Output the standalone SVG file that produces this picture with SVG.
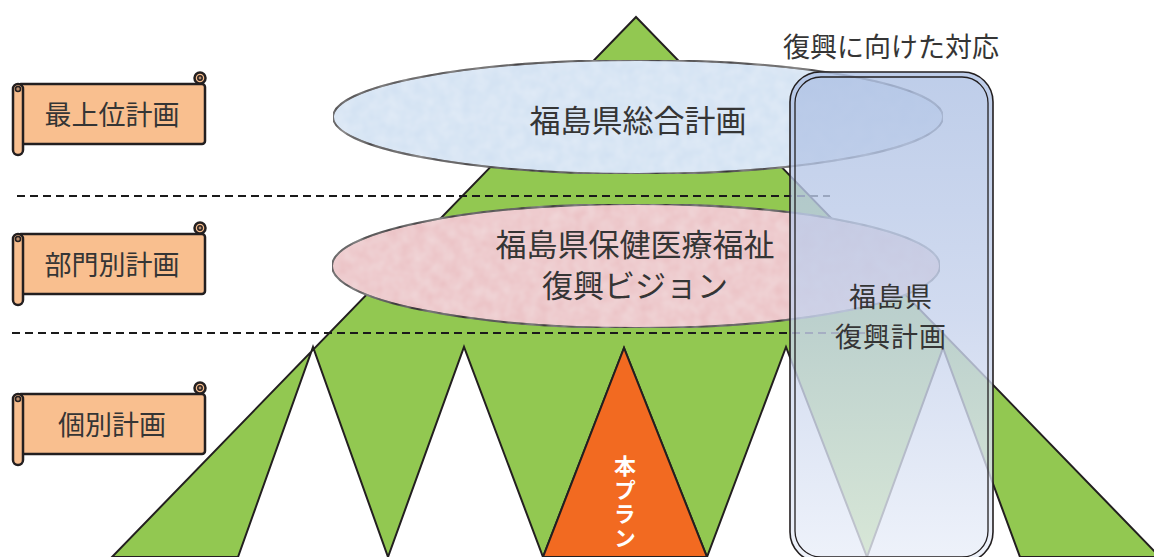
<svg xmlns="http://www.w3.org/2000/svg" width="1154" height="557" viewBox="0 0 1154 557">
  <defs>
    <style>
      .jp { font-family: "Noto Sans CJK JP", "Noto Sans", sans-serif; fill: #353535; }
      .ban { fill: #f9bf8f; stroke: #231f20; stroke-width: 2.5; }
      .curl { fill: #b98c6c; stroke: #231f20; stroke-width: 1.5; }
      .dash { stroke: #1a1a1a; stroke-width: 1.8; stroke-dasharray: 8 5; fill: none; }
      .edge { stroke: #231f20; stroke-width: 2; stroke-linejoin: miter; }
    </style>
    <linearGradient id="panelGrad" x1="0" y1="0" x2="0" y2="1">
      <stop offset="0" stop-color="#aec1e4"/>
      <stop offset="0.5" stop-color="#c6d2ec"/>
      <stop offset="1" stop-color="#eaeff9"/>
    </linearGradient>
    <filter id="mottle" x="0" y="0" width="1" height="1">
      <feTurbulence type="fractalNoise" baseFrequency="0.08" numOctaves="2" seed="3" result="n"/>
      <feColorMatrix in="n" type="matrix" values="0 0 0 0 1  0 0 0 0 1  0 0 0 0 1  0 0 0 0.35 -0.05" result="w"/>
      <feComposite in="w" in2="SourceGraphic" operator="in" result="wc"/>
      <feMerge><feMergeNode in="SourceGraphic"/><feMergeNode in="wc"/></feMerge>
    </filter>
    <g id="banner">
      <rect class="ban" x="18" y="1" width="187" height="60" rx="3"/>
      <circle class="ban" cx="200" cy="-5" r="5.5"/>
      <circle class="curl" cx="200" cy="-5" r="2.2"/>
      <rect class="ban" x="13" y="1" width="10" height="71" rx="5"/>
      <circle class="curl" cx="18" cy="6" r="2.5"/>
    </g>
  </defs>

  <g id="mountain">
    <polygon class="edge" fill="#92c851" points="636,17 1160,557 1020,557 943,348 867,557 786,347 707,557 624,348 543,557 464,347 388,557 313,347 238,557 112,557"/>
  </g>

  <g id="honplan">
    <polygon fill="#f26a21" stroke="#231f20" stroke-width="2" points="624,348 543,557 707,557"/>
    <text x="625" y="455" style="font-family: 'Noto Sans CJK JP', sans-serif; font-weight: bold; font-size: 22px; fill: #ffffff; writing-mode: vertical-rl; letter-spacing: 2px;">本プラン</text>
  </g>

  <g id="separators">
    <line class="dash" x1="17" y1="196" x2="830" y2="196"/>
    <line class="dash" x1="12" y1="333" x2="880" y2="333"/>
  </g>

  <g id="sougou">
    <ellipse cx="638" cy="117" rx="305" ry="57" fill="#d3e2f3" stroke="#231f20" stroke-width="2" filter="url(#mottle)"/>
    <text class="jp" x="638" y="132" font-size="31" text-anchor="middle">福島県総合計画</text>
  </g>

  <g id="vision">
    <ellipse cx="636" cy="266" rx="304" ry="62" fill="#ebc3c6" stroke="#231f20" stroke-width="2" filter="url(#mottle)"/>
    <text class="jp" font-size="31" text-anchor="middle"><tspan x="635" y="256">福島県保健医療福祉</tspan><tspan x="635" y="297">復興ビジョン</tspan></text>
  </g>

  <g id="fukkou">
    <rect x="790" y="72" width="203" height="490" rx="30" fill="url(#panelGrad)" opacity="0.8"/>
    <rect x="790" y="72" width="203" height="490" rx="30" fill="none" stroke="#231f20" stroke-width="1.6"/>
    <rect x="795" y="77" width="193" height="480" rx="26" fill="none" stroke="#231f20" stroke-width="1.3"/>
    <text class="jp" x="891" y="57" font-size="27" text-anchor="middle">復興に向けた対応</text>
    <text class="jp" font-size="27" text-anchor="middle" letter-spacing="1"><tspan x="891" y="307">福島県</tspan><tspan x="891" y="347">復興計画</tspan></text>
  </g>

  <g id="level-top">
    <use href="#banner" x="0" y="83"/>
    <text class="jp" x="112" y="125" font-size="27" text-anchor="middle">最上位計画</text>
  </g>
  <g id="level-sector">
    <use href="#banner" x="0" y="233"/>
    <text class="jp" x="112" y="275" font-size="27" text-anchor="middle">部門別計画</text>
  </g>
  <g id="level-individual">
    <use href="#banner" x="0" y="393"/>
    <text class="jp" x="112" y="435" font-size="27" text-anchor="middle">個別計画</text>
  </g>
</svg>
